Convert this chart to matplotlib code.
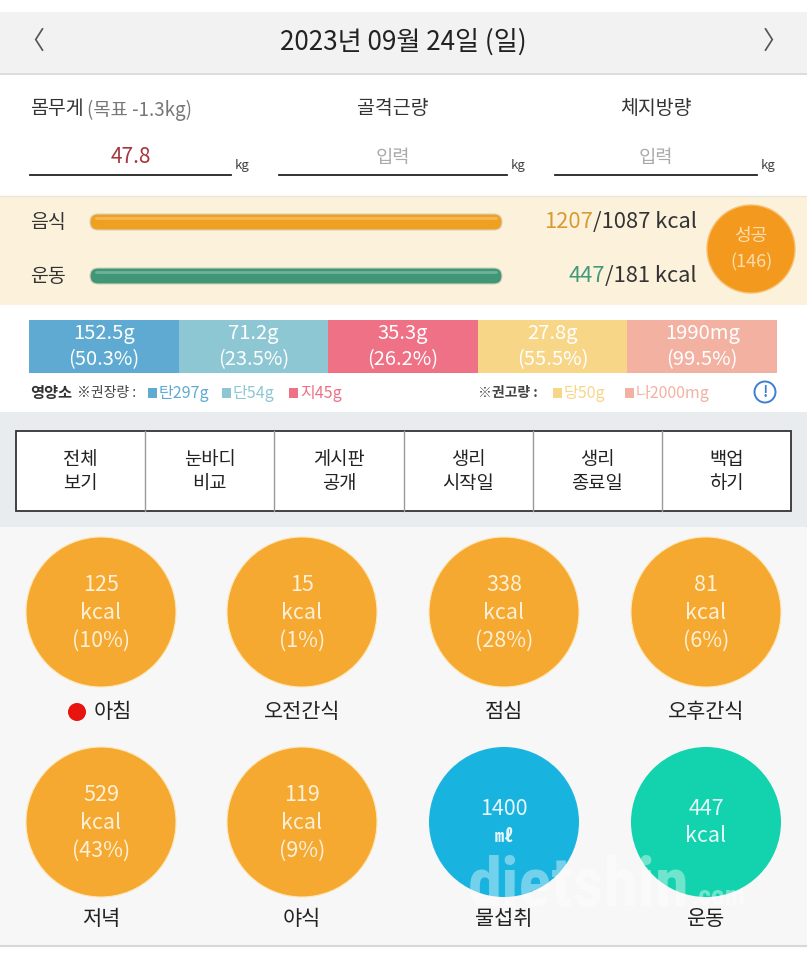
import numpy as np
import matplotlib.pyplot as plt
from matplotlib import font_manager
from matplotlib.patches import Rectangle, Circle, FancyBboxPatch

plt.rcParams['font.family'] = ['Noto Sans CJK KR', 'DejaVu Sans']

# 데이터
date_title = "2023년 09월 24일 (일)"
weight = "47.8"
weight_goal = "(목표 -1.3kg)"
body_labels = ["몸무게", "골격근량", "체지방량"]

food_eaten, food_goal = 1207, 1087
exer_done, exer_goal = 447, 181
success_days = 146

nutr_vals = ["152.5g", "71.2g", "35.3g", "27.8g", "1990mg"]
nutr_pct = [50.3, 23.5, 26.2, 55.5, 99.5]
nutr_colors = ["#5eaad2", "#8dc7d4", "#ee7186", "#f7d688", "#f3b1a1"]
rec_labels = ["탄297g", "단54g", "지45g"]
lim_labels = ["당50g", "나2000mg"]

menu = ["전체\n보기", "눈바디\n비교", "게시판\n공개", "생리\n시작일", "생리\n종료일", "백업\n하기"]

meal_names = ["아침", "오전간식", "점심", "오후간식", "저녁", "야식", "물섭취", "운동"]
meal_vals = [125, 15, 338, 81, 529, 119, 1400, 447]
meal_pct = [10, 1, 28, 6, 43, 9, None, None]
meal_units = ["kcal"] * 6 + ["㎖", "kcal"]
meal_colors = ["#f5a930"] * 6 + ["#19b3e0", "#12d3ad"]

fig = plt.figure(figsize=(8.07, 9.6), dpi=100)
ax = fig.add_axes([0, 0, 1, 1])
ax.set_xlim(0, 807)
ax.set_ylim(960, 0)
ax.axis('off')
inv = ax.transData.inverted()

def rect(x, y, w, h, c, **kw):
    ax.add_patch(Rectangle((x, y), w, h, facecolor=c, edgecolor='none', **kw))

def text_width(t):
    fig.canvas.draw()
    bb = t.get_window_extent()
    return bb.x0, bb.x1

# 배경
rect(0, 0, 807, 960, 'white')
rect(0, 12, 807, 61, '#f2f2f2')
ax.plot([0, 807], [73.5, 73.5], color='#d6d6d6', lw=1.2)
ax.text(403, 42, date_title, ha='center', va='center', fontsize=18.8, color='#222222')
ax.text(32, 42, "〈", ha='center', va='center', fontsize=18, color='#555555')
ax.text(775, 42, "〉", ha='center', va='center', fontsize=18, color='#555555')

# 체중 입력
ax.text(30, 109, body_labels[0], ha='left', va='center', fontsize=14, color='#333333')
ax.text(87, 110, weight_goal, ha='left', va='center', fontsize=13.5, color='#777777')
ax.text(393, 108, body_labels[1], ha='center', va='center', fontsize=14, color='#333333')
ax.text(656, 108, body_labels[2], ha='center', va='center', fontsize=14, color='#333333')
fields = [(30, 231, weight, '#a6343c'), (279, 507, "입력", '#aaaaaa'), (555, 757, "입력", '#aaaaaa')]
for x0, x1, txt, col in fields:
    ax.plot([x0, x1], [175, 175], color='#222222', lw=1.3)
    ax.text((x0 + x1) / 2, 157, txt, ha='center', va='center',
            fontsize=15 if txt == weight else 13.5, color=col)
    ax.text(x1 + 4, 166, "kg", ha='left', va='center', fontsize=9.5, color='#444444')

# 칼로리 바
rect(0, 196, 807, 109, '#fcf2dc')
ax.plot([0, 807], [196, 196], color='#ece6d6', lw=1)
track_x, track_len = 90, 412
bars = [("음식", 222, food_eaten, food_goal, '#f0a020', '#d99a30'),
        ("운동", 276, exer_done, exer_goal, '#3f9778', '#3f9a78')]
for name, y, v, g, bc, tc in bars:
    ax.text(30, y, name, ha='left', va='center', fontsize=14, color='#333333')
    w = track_len * min(1.0, v / g)
    ax.add_patch(FancyBboxPatch((track_x, y - 8), w, 16, boxstyle="round,pad=0,rounding_size=8",
                                facecolor=bc, edgecolor='#d9d0bb', lw=0.8))
    ax.plot([track_x + 6, track_x + w - 6], [y - 4, y - 4], color='white', alpha=0.25, lw=2,
            solid_capstyle='round')
    t2 = ax.text(697, y, f"/{g} kcal", ha='right', va='center', fontsize=15.8, color='#333333')
    x0, _ = text_width(t2)
    xl = inv.transform((x0, 0))[0]
    ax.text(xl, y, str(v), ha='right', va='center', fontsize=15.8, color=tc)

ax.add_patch(Circle((751, 249), 44, facecolor='#f39a1e', edgecolor='#f7c070', lw=1))
ax.text(751, 236, "성공", ha='center', va='center', fontsize=13, color='#fddcae')
ax.text(751, 262, f"({success_days})", ha='center', va='center', fontsize=13, color='#fddcae')

# 영양소
nx, nw = 29, 149.6
for i, (v, p, c) in enumerate(zip(nutr_vals, nutr_pct, nutr_colors)):
    x = nx + i * nw
    rect(x, 320, nw, 53, c)
    ax.text(x + nw / 2, 333, v, ha='center', va='center', fontsize=14.5, color='white')
    ax.text(x + nw / 2, 360, f"({p}%)", ha='center', va='center', fontsize=14.5, color='white')

ly = 393
ax.text(30, ly, "영양소", ha='left', va='center', fontsize=11, color='#333333', fontweight='bold')
ax.text(77, ly, "※권장량 :", ha='left', va='center', fontsize=10, color='#444444')
for x, lab, c in zip([148, 222, 289], rec_labels, nutr_colors[:3]):
    rect(x, ly - 5, 9, 10, c)
    ax.text(x + 11, ly, lab, ha='left', va='center', fontsize=11.5, color=c)
ax.text(478, ly, "※권고량 :", ha='left', va='center', fontsize=10, color='#444444', fontweight='bold')
for x, lab, c in zip([553, 625], lim_labels, nutr_colors[3:]):
    rect(x, ly - 5, 9, 10, c)
    ax.text(x + 11, ly, lab, ha='left', va='center', fontsize=11.5, color=c)
ax.add_patch(Circle((765, 392), 10.5, facecolor='none', edgecolor='#3c7fd0', lw=1.4))
ax.text(765, 392, "!", ha='center', va='center', fontsize=10.5, color='#3c7fd0', fontweight='bold')

# 메뉴 표
rect(0, 412, 807, 115, '#e9ecef')
tx, tw = 16, 775
cw = tw / len(menu)
rect(tx, 431, tw, 80, 'white')
ax.add_patch(Rectangle((tx, 431), tw, 80, facecolor='none', edgecolor='#333333', lw=1.3))
for i, m in enumerate(menu):
    if i > 0:
        ax.plot([tx + i * cw] * 2, [431, 511], color='#999999', lw=1)
    l1, l2 = m.split("\n")
    ax.text(tx + (i + 0.5) * cw, 459, l1, ha='center', va='center', fontsize=13.5, color='#222222')
    ax.text(tx + (i + 0.5) * cw, 484, l2, ha='center', va='center', fontsize=13.5, color='#222222')

# 식사 원
rect(0, 527, 807, 419, '#f7f7f7')
ax.plot([0, 807], [946, 946], color='#d8d8d8', lw=1.5)
cx = [101, 302, 504, 706]
cy = [612, 822]
ly_lab = [711, 918]
for i, (n, v, p, u, c) in enumerate(zip(meal_names, meal_vals, meal_pct, meal_units, meal_colors)):
    r, col = divmod(i, 4)
    x, y = cx[col], cy[r]
    ax.add_patch(Circle((x, y), 75, facecolor=c, edgecolor='#fde7b8' if c == '#f5a930' else 'none', lw=0.8))
    tc = '#fdf0d8' if c == '#f5a930' else '#e6f7fb'
    if p is not None:
        ax.text(x, y - 27, str(v), ha='center', va='center', fontsize=15.5, color=tc)
        ax.text(x, y + 1, u, ha='center', va='center', fontsize=15.5, color=tc)
        ax.text(x, y + 29, f"({p}%)", ha='center', va='center', fontsize=15.5, color=tc)
    else:
        ax.text(x, y - 13, str(v), ha='center', va='center', fontsize=15.5, color=tc)
        ax.text(x, y + 14, u, ha='center', va='center', fontsize=13 if u == "㎖" else 15.5,
                color=tc, fontweight='bold' if u == "㎖" else 'normal')
    ax.text(x + (12 if i == 0 else 0), ly_lab[r] + 1, n, ha='center', va='center', fontsize=15, color='#222222')
ax.add_patch(Circle((77, 712), 9, facecolor='#e8140f', edgecolor='none'))

# 워터마크
names = {f.name for f in font_manager.fontManager.ttflist}
wm_font = 'DejaVu Sans'
for cand in ['Liberation Sans Narrow', 'DejaVu Sans Condensed', 'Roboto Condensed', 'Open Sans Condensed']:
    if cand in names:
        wm_font = cand
        break
wm = ax.text(468, 905, "dietshin", ha='left', va='baseline', fontsize=60, color='white', alpha=0.4,
             family=wm_font, fontstretch='condensed', fontweight='bold')
x0, x1 = text_width(wm)
wm.set_fontsize(60 * 222 / (x1 - x0))
ax.text(690, 905, ".com", ha='left', va='baseline', fontsize=20, color='white', alpha=0.4,
        family=wm_font, fontstretch='condensed', fontweight='bold')

fig.savefig("out.png", dpi=100)
